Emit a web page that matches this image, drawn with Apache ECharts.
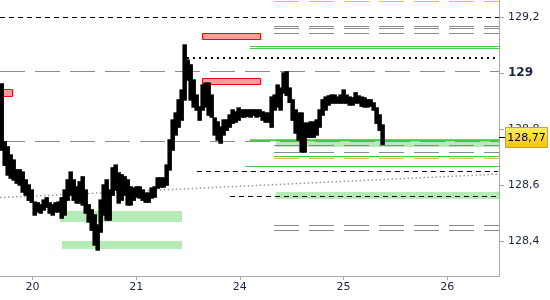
<!DOCTYPE html>
<html><head><meta charset="utf-8">
<script src="https://cdn.jsdelivr.net/npm/echarts@6/dist/echarts.min.js"></script>
<style>html,body{margin:0;padding:0;background:#fff}#c{width:550px;height:300px}</style>
</head><body><div id="c"></div>
<script>
// ---- axis data ----
const dayTicks = [0, 1, 2, 3, 4];            // trading-day index
const dayLabels = ['20', '21', '24', '25', '26'];
const yTicks = [128.4, 128.6, 128.8, 129, 129.2];
const xRange = [-0.313, 4.5];
const yRange = [128.275, 129.261];

// ---- price (bars sampled on a regular time grid, in day units) ----
const priceStart = -0.299;
const priceStep = 0.02893;
const priceHigh = [128.961,128.754,128.736,128.707,128.689,128.654,128.654,128.646,128.618,128.600,
128.582,128.539,128.536,128.529,128.546,128.554,128.536,128.529,128.536,128.539,
128.554,128.582,128.618,128.646,128.618,128.593,128.611,128.629,128.582,128.529,
128.511,128.493,128.457,128.546,128.600,128.618,128.582,128.661,128.671,128.643,
128.636,128.629,128.618,128.593,128.589,128.593,128.593,128.582,128.571,128.571,
128.589,128.593,128.625,128.625,128.625,128.671,128.761,128.832,128.857,128.904,
128.939,129.100,129.046,129.029,128.975,128.921,128.879,128.957,128.964,128.964,
128.921,128.839,128.825,128.807,128.832,128.832,128.850,128.868,128.861,128.875,
128.868,128.868,128.868,128.868,128.868,128.868,128.868,128.861,128.857,128.857,
128.914,128.921,128.957,128.946,129.000,129.004,128.946,128.904,128.868,128.857,
128.857,128.821,128.821,128.825,128.825,128.832,128.868,128.904,128.914,128.918,
128.921,128.921,128.914,128.921,128.939,128.921,128.914,128.911,128.929,128.918,
128.914,128.911,128.904,128.904,128.893,128.875,128.850,128.814];
const priceLow = [128.725,128.671,128.636,128.625,128.618,128.607,128.600,128.575,128.564,128.546,
128.539,128.493,128.504,128.500,128.511,128.521,128.500,128.493,128.504,128.504,
128.482,128.493,128.546,128.564,128.546,128.536,128.536,128.529,128.500,128.468,
128.439,128.386,128.368,128.432,128.493,128.475,128.475,128.564,128.582,128.536,
128.546,128.564,128.529,128.529,128.546,128.557,128.554,128.546,128.539,128.539,
128.554,128.557,128.589,128.593,128.593,128.600,128.654,128.725,128.779,128.807,
128.832,128.904,128.975,128.904,128.879,128.868,128.832,128.868,128.879,128.850,
128.843,128.779,128.761,128.750,128.779,128.796,128.807,128.821,128.825,128.832,
128.843,128.843,128.846,128.843,128.850,128.843,128.846,128.832,128.825,128.825,
128.807,128.868,128.879,128.868,128.929,128.921,128.896,128.832,128.786,128.761,
128.718,128.718,128.771,128.771,128.771,128.779,128.807,128.850,128.868,128.886,
128.893,128.893,128.893,128.893,128.893,128.893,128.886,128.886,128.893,128.893,
128.882,128.879,128.879,128.882,128.868,128.821,128.796,128.746];
const lastPrice = 128.77;

// ---- levels: [fromDay, toDay, value] ----
const grayDashLevels = [[-0.313,4.5,129.009],[-0.313,4.5,128.756],
  [2.33,4.5,129.168],[2.33,4.5,129.161],[2.33,4.5,129.143],
  [2.33,4.5,128.742],[2.33,4.5,128.717],[2.33,4.5,128.456],[2.33,4.5,128.439]];
const orangeDashLevels = [[2.33,4.5,129.257],[2.33,4.5,128.696]];
const blackDashLevels = [[-0.313,4.5,129.2],[1.586,4.49,128.649],[1.905,4.48,128.560]];
const blackDotLevels = [[1.49,4.46,129.054]];
const greenLevels = [[2.097,4.5,129.096],[2.097,4.5,129.089],[2.33,4.5,128.704],[2.049,4.5,128.668]];
const greenThickLevels = [[2.097,4.5,128.760]];
// trend line: [fromDay, toDay, fromValue, toValue]
const trendLines = [[-0.313,4.48,128.555,128.639]];
// zones: [fromDay, toDay, topValue, bottomValue]
const greenZones = [[2.348,4.5,128.764,128.735],[2.348,4.5,128.576,128.551],
  [0.265,1.439,128.507,128.469],[0.284,1.439,128.400,128.372]];
const redZones = [[1.635,2.203,129.143,129.118],[1.635,2.203,128.982,128.957],[-0.313,-0.19,128.943,128.915]];

const FONT = 'DejaVu Sans';

function lineSeries(rows, color, width, dash, z) {
  return {
    type: 'custom', silent: true, animation: false, z: z, clip: false,
    data: rows.map(r => r.length === 3 ? [r[0], r[1], r[2], r[2]] : r),
    encode: { x: [0, 1], y: [2, 3] },
    renderItem(params, api) {
      const p1 = api.coord([api.value(0), api.value(2)]);
      const p2 = api.coord([api.value(1), api.value(3)]);
      let y1 = p1[1], y2 = p2[1];
      if (api.value(2) === api.value(3) && width % 2 === 1) { y1 = y2 = Math.round(y1) + 0.5; }
      return { type: 'line', shape: { x1: p1[0], y1: y1, x2: p2[0], y2: y2 },
        style: { stroke: color, lineWidth: width, lineDash: dash, fill: null } };
    }
  };
}
function zoneSeries(rows, fill, stroke, z) {
  return {
    type: 'custom', silent: true, animation: false, z: z, clip: false,
    data: rows, encode: { x: [0, 1], y: [2, 3] },
    renderItem(params, api) {
      const p1 = api.coord([api.value(0), api.value(2)]);
      const p2 = api.coord([api.value(1), api.value(3)]);
      let x = Math.round(p1[0]), y = Math.round(p1[1]);
      let w = Math.round(p2[0]) - x, h = Math.round(p2[1]) - y;
      if (stroke) { x += 0.5; y += 0.5; w -= 1; h -= 1; }
      return { type: 'rect', shape: { x, y, width: w, height: h },
        style: { fill: fill, stroke: stroke || null, lineWidth: 1 } };
    }
  };
}

const priceData = priceHigh.map((h, i) => [priceStart + i * priceStep, priceLow[i], h]);

const option = {
  animation: false,
  grid: { left: 0, right: 51, top: 0, bottom: 24, containLabel: false },
  xAxis: {
    type: 'value', min: xRange[0], max: xRange[1],
    axisLine: { onZero: false, lineStyle: { color: '#a8a8a8' } },
    axisTick: { customValues: dayTicks, length: 4, lineStyle: { color: '#a8a8a8' } },
    axisLabel: { customValues: dayTicks, formatter: v => dayLabels[dayTicks.indexOf(v)],
      color: '#1b2540', fontSize: 11, fontFamily: FONT, margin: 6 },
    splitLine: { show: false }
  },
  yAxis: {
    type: 'value', position: 'right', min: yRange[0], max: yRange[1],
    axisLine: { show: true, onZero: false, lineStyle: { color: '#a8a8a8' } },
    axisTick: { show: true, customValues: yTicks, length: 5, lineStyle: { color: '#a8a8a8' } },
    axisLabel: { customValues: yTicks, color: '#1b2540', fontSize: 11, fontFamily: FONT, margin: 9,
      formatter: v => {
        const isInt = Math.abs(v - Math.round(v)) < 1e-9;
        const s = isInt ? String(Math.round(v)) : v.toFixed(1).replace('.', ',');
        return isInt ? '{b|' + s + '}' : s;
      },
      rich: { b: { fontWeight: 'bold', fontSize: 12, fontFamily: FONT, color: '#1b2540' } } },
    splitLine: { show: false }
  },
  series: [
    zoneSeries(greenZones, '#b5ebb5', null, 1),
    lineSeries(grayDashLevels, '#8a8a8a', 1, [25, 10], 2),
    lineSeries(orangeDashLevels, '#f5b942', 1, [25, 10], 2),
    lineSeries(greenLevels, '#44cc44', 1, null, 3),
    lineSeries(greenThickLevels, '#44cc44', 2, null, 3),
    lineSeries(blackDashLevels, '#000', 1, [5, 4], 3),
    lineSeries(blackDotLevels, '#000', 2, [2, 4], 3),
    lineSeries(trendLines, '#999', 1.5, [1.5, 2.5], 3),
    zoneSeries(redZones, '#ff9c9c', '#ff0000', 4),
    {
      type: 'custom', silent: true, animation: false, z: 6,
      data: priceData, encode: { x: 0, y: [1, 2] },
      renderItem(params, api) {
        const x = api.value(0);
        const p1 = api.coord([x - priceStep / 2, api.value(2)]);
        const p2 = api.coord([x + priceStep / 2, api.value(1)]);
        const h = Math.max(4, p2[1] - p1[1] + 1.5);
        const yTop = (p1[1] + p2[1]) / 2 - h / 2;
        return { type: 'rect', shape: { x: p1[0] - 0.5, y: yTop, width: p2[0] - p1[0] + 1.5, height: h },
          style: { fill: '#000' } };
      }
    },
    {
      type: 'custom', silent: true, animation: false, z: 10, clip: false,
      data: [[xRange[1], lastPrice]], encode: { x: 0, y: 1 },
      renderItem(params, api) {
        const p = api.coord([api.value(0), api.value(1)]);
        const y = Math.round(p[1]) + 0.5;
        return { type: 'group', children: [
          { type: 'line', shape: { x1: p[0], y1: y, x2: p[0] + 6, y2: y }, style: { stroke: '#000', lineWidth: 1 } },
          { type: 'rect', shape: { x: p[0] + 6.5, y: y - 10, width: 42, height: 20 },
            style: { fill: new echarts.graphic.LinearGradient(0, 0, 0, 1, [
              { offset: 0, color: '#fff06a' }, { offset: 1, color: '#f2c200' }]), stroke: '#c9a227', lineWidth: 1 } },
          { type: 'text', style: { text: String(lastPrice).replace('.', ','), x: p[0] + 27.5, y: y + 0.5,
            align: 'center', verticalAlign: 'middle', font: '11px "' + FONT + '"', fill: '#000' } }
        ] };
      }
    }
  ]
};
const chart = echarts.init(document.getElementById('c'));
chart.setOption(option);
</script>
</body></html>
